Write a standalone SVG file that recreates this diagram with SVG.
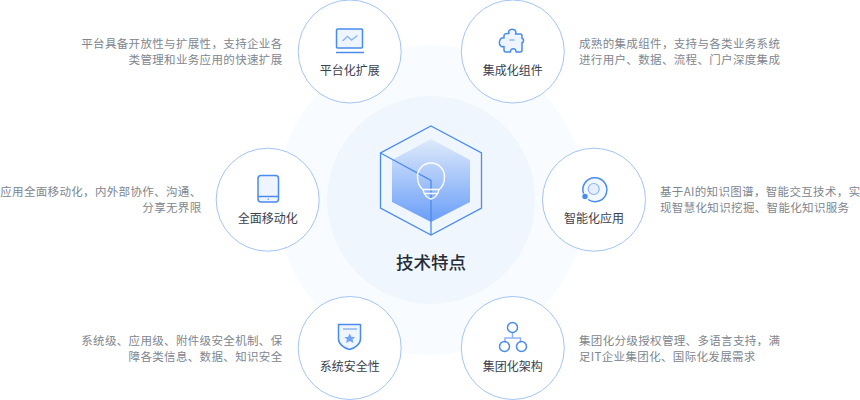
<svg xmlns="http://www.w3.org/2000/svg" width="860" height="400" viewBox="0 0 860 400">
<style>
text{font-family:"Noto Sans CJK SC","Liberation Sans",sans-serif}
.node{fill:#fff;stroke:#a3c4f5;stroke-width:1}
.title{font-size:12px;fill:#39414e;font-weight:400;text-anchor:middle}
.desc{font-size:11.500px;fill:#80868f;letter-spacing:.34px}
.end{text-anchor:end}
.ic{fill:none;stroke:#4a8bee;stroke-width:1.500;stroke-linejoin:round}
.sf{fill:#eff5fe}
.lt{fill:none;stroke:#8db5f5;stroke-width:1.500}
</style>
<defs>
<linearGradient id="hx" x1="0" y1="0" x2="0" y2="1"><stop offset="0" stop-color="#dfeafb"/><stop offset="1" stop-color="#6a9ef8"/></linearGradient>
</defs>
<circle cx="431" cy="200" r="155" fill="#f8fbff"/>
<g id="center">
<circle cx="431" cy="200" r="104" fill="#f0f6fe"/>
<polygon points="431,139 470,160 470,202 431,222 392,202 392,160" fill="url(#hx)"/>
<polygon points="431,126 481.500,153 481.500,208 431,235 380.500,208 380.500,153" fill="none" stroke="#4a8bee" stroke-width="1.300"/>
<path d="M380.500 153L431 180.500V235" fill="none" stroke="#4a8bee" stroke-width="1.300"/>
<path d="M423 189.500C419.500 187 417.500 181.500 417.500 176.500C417.500 169 423.500 163 431 163C438.500 163 444.500 169 444.500 176.500C444.500 181.500 442.500 187 439 189.500L438 193C436 196.500 433 198.500 431 199C429 198.500 426 196.500 424 193ZM423.500 189.500H438.500M424 193.500H438" fill="none" stroke="#fff" stroke-width="1.400"/>
<text x="431" y="269" font-size="17.500" font-weight="500" fill="#262d38" text-anchor="middle">技术特点</text>
</g>
<g id="platform">
<circle class="node" cx="349.700" cy="51.500" r="51.500"/>
<rect class="ic sf" x="336.500" y="29" width="26" height="19" rx="1"/>
<path class="ic" d="M336 52.500H364"/>
<path class="lt" d="M342.500 41L347.500 36.500L351.500 40L357.500 35.500"/>
<text class="title" x="349.700" y="75">平台化扩展</text>
<text class="desc end" x="282.500" y="48">平台具备开放性与扩展性，支持企业各</text>
<text class="desc end" x="282.500" y="64">类管理和业务应用的快速扩展</text>
</g>
<g id="integration">
<circle class="node" cx="512.800" cy="51.500" r="51.500"/>
<path class="ic sf" d="M507 33.500H509C507.500 29.500 511.500 29 513.500 29.500C516.500 30 516 33 515.500 34H520.500C521.800 34 522 35 522 36V38.500C524 38 524 43 522 42.500V50C522 51.500 521 52 520 52H516C516.500 47.500 510 47.500 510.500 52H506C504.500 52 504 51 504 50V46.500C500.500 47.500 499 44.500 499.500 41.500C500 38.500 502 37.500 504 38V35.500C504 34.500 505.500 33.500 507 33.500Z"/>
<path class="lt" d="M509.500 40H514.500"/>
<text class="title" x="512.800" y="75">集成化组件</text>
<text class="desc" x="579" y="48">成熟的集成组件，支持与各类业务系统</text>
<text class="desc" x="579" y="64">进行用户、数据、流程、门户深度集成</text>
</g>
<g id="mobile">
<circle class="node" cx="267.700" cy="199.700" r="51.500"/>
<rect class="ic sf" x="258" y="175.500" width="20.500" height="26.500" rx="3"/>
<path class="ic" d="M258 196.500H278.500"/>
<circle cx="268.200" cy="199.200" r=".7" fill="#4a8bee"/>
<text class="title" x="267.700" y="223">全面移动化</text>
<text class="desc end" x="201.500" y="196">应用全面移动化，内外部协作、沟通、</text>
<text class="desc end" x="201.500" y="212">分享无界限</text>
</g>
<g id="ai">
<circle class="node" cx="594" cy="199.700" r="51.500"/>
<circle cx="593.700" cy="189" r="12" fill="#f3f7fe"/>
<path class="ic" d="M583.500 193.500A12 12 0 1 1 588 199.500"/>
<circle cx="593.700" cy="189" r="5.500" fill="#e6f0fd" stroke="#8db5f5" stroke-width="1.200"/>
<circle cx="585" cy="196.500" r="2.700" fill="#4a8bee"/>
<text class="title" x="594" y="223">智能化应用</text>
<text class="desc" x="660" y="196">基于AI的知识图谱，智能交互技术，实</text>
<text class="desc" x="660" y="212">现智慧化知识挖掘、智能化知识服务</text>
</g>
<g id="security">
<circle class="node" cx="349.700" cy="348" r="51.500"/>
<path class="ic sf" d="M338.500 324.500H360.500V339C360.500 344 355 348 349.500 349.500C344 348 338.500 344 338.500 339Z"/>
<path class="lt" d="M343 329H357" stroke-width="1"/>
<path d="M349.700 333.500L351.500 337H355L352.500 339.500L353.500 343L349.700 341L346 343L347 339.500L344.500 337H348Z" fill="#71a3f6"/>
<text class="title" x="349.700" y="371">系统安全性</text>
<text class="desc end" x="282.500" y="345">系统级、应用级、附件级安全机制、保</text>
<text class="desc end" x="282.500" y="361">障各类信息、数据、知识安全</text>
</g>
<g id="group">
<circle class="node" cx="512.800" cy="348" r="51.500"/>
<path class="lt" d="M512.500 333V338M505 342.500V338H520.500V342.500"/>
<circle class="ic" cx="512.500" cy="327.500" r="5"/>
<circle class="ic" cx="504.500" cy="346.500" r="5"/>
<circle class="ic" cx="521.500" cy="346.500" r="5"/>
<text class="title" x="512.800" y="371">集团化架构</text>
<text class="desc" x="579" y="345">集团化分级授权管理、多语言支持，满</text>
<text class="desc" x="579" y="361">足IT企业集团化、国际化发展需求</text>
</g>
<g id="connectors"></g>
</svg>
